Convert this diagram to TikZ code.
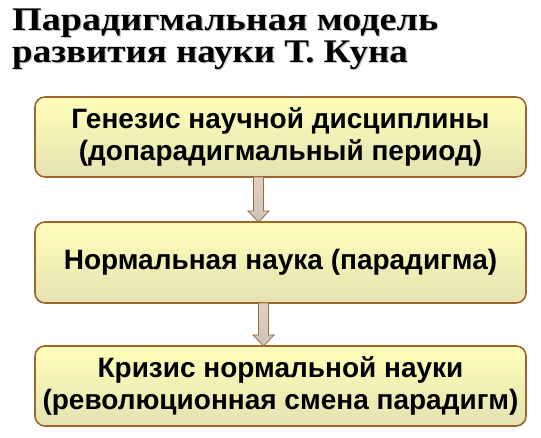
\documentclass[tikz,border=0pt]{standalone}
\usepackage{fontspec}
\setmainfont{Liberation Serif}
\setsansfont{Liberation Sans}
\usetikzlibrary{calc}
\definecolor{boxborder}{RGB}{160,100,45}
\definecolor{boxtop}{RGB}{255,255,185}
\definecolor{boxbot}{RGB}{228,226,178}
\definecolor{arrtop}{RGB}{228,208,192}
\definecolor{arrbot}{RGB}{200,196,188}
\definecolor{arrline}{RGB}{160,105,60}
\newcommand{\shadowed}[1]{\rlap{\hspace{1pt}\raisebox{-1pt}{\textcolor{black!22}{#1}}}#1}
\tikzset{
  stagebox/.style={rectangle, rounded corners=10pt, draw=boxborder, line width=1.6pt,
    top color=boxtop, bottom color=boxbot, minimum width=491pt, minimum height=80pt,
    align=center, inner sep=0pt,
    font=\sffamily\bfseries\fontsize{28}{32}\selectfont},
  titletext/.style={anchor=base west, inner sep=0pt, xscale=1.155, font=\rmfamily\bfseries\fontsize{33}{33}\selectfont},
  flowarrow/.style={draw=arrline, line width=0.8pt, top color=arrtop, bottom color=arrbot}
}
\newcommand{\flowarr}[2]{%
  \path[flowarrow] ($(#1)+(-5pt,0)$) -- ($(#2)+(-5pt,11pt)$) -- ($(#2)+(-10.5pt,11pt)$) -- (#2)
    -- ($(#2)+(10.5pt,11pt)$) -- ($(#2)+(5pt,11pt)$) -- ($(#1)+(5pt,0)$) -- cycle;}
\begin{document}
\begin{tikzpicture}[x=1pt,y=1pt]
\useasboundingbox (0,0) rectangle (541,438);
\fill[white] (0,0) rectangle (541,438);
% title
\node[titletext] (t1) at (12,407.5) {\shadowed{Парадигмальная модель}};
\node[titletext, xscale=0.97] (t2) at (12,375.5) {\shadowed{развития науки Т. Куна}};
% boxes
\node[stagebox] (b1) at (280.5,301) {Генезис научной дисциплины\\(допарадигмальный период)};
\node[stagebox, minimum height=81pt] (b2) at (280.5,175.5) {Нормальная наука (парадигма)};
\node[stagebox] (b3) at (280.5,52) {Кризис нормальной науки\\(революционная смена парадигм)};
% arrows
\coordinate (a1s) at ($(b1.south)+(-22pt,0.8pt)$);
\coordinate (a1e) at ($(b2.north)+(-22pt,-0.8pt)$);
\coordinate (a2s) at ($(b2.south)+(-17pt,0.8pt)$);
\coordinate (a2e) at ($(b3.north)+(-17pt,-0.8pt)$);
\flowarr{a1s}{a1e}
\flowarr{a2s}{a2e}
\end{tikzpicture}
\end{document}
